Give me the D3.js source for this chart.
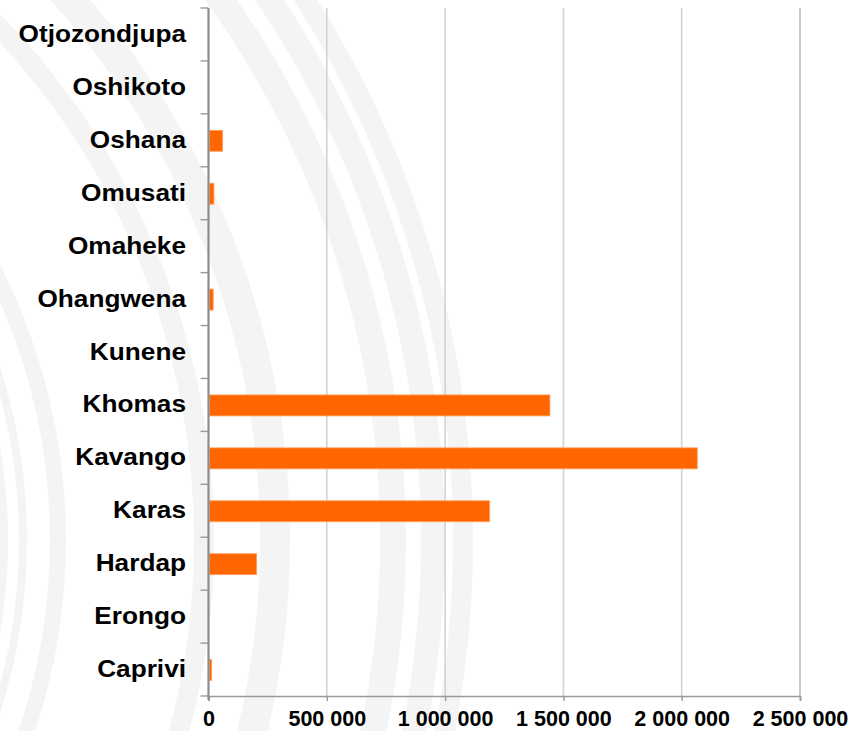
<!DOCTYPE html>
<html>
<head>
<meta charset="utf-8">
<script src="https://cdn.jsdelivr.net/npm/d3@7"></script>
<style>
  html, body { margin: 0; padding: 0; background: #ffffff; }
  svg { display: block; }
  text { font-family: "Liberation Sans", Arial, sans-serif; font-weight: bold; fill: #000; }
</style>
</head>
<body>
<svg id="chart" width="861" height="731"></svg>
<script>
// Regions, listed top to bottom
const regions = ["Otjozondjupa", "Oshikoto", "Oshana", "Omusati", "Omaheke", "Ohangwena",
                 "Kunene", "Khomas", "Kavango", "Karas", "Hardap", "Erongo", "Caprivi"];
const values  = [1500, 1500, 60000, 23000, 0, 20000,
                 0, 1443000, 2066000, 1188500, 203700, 0, 13500];
const xTicks  = [0, 500000, 1000000, 1500000, 2000000, 2500000];

(function () {
  const svg = d3.select("#chart");
  const plotLeft = 208.5, plotRight = 800, plotTop = 8, plotBottom = 696;

  // Watermark: faint concentric rings behind the plot
  const ringCenter = [-540, 540];
  const rings = [
    {r: 544, w: 8}, {r: 563, w: 8}, {r: 598, w: 16},
    {r: 744, w: 20}, {r: 815, w: 30}, {r: 933, w: 26},
    {r: 973, w: 24}, {r: 1003, w: 20}
  ];
  svg.append("g")
    .selectAll("circle")
    .data(rings)
    .join("circle")
    .attr("cx", ringCenter[0])
    .attr("cy", ringCenter[1])
    .attr("r", d => d.r)
    .attr("fill", "none")
    .attr("stroke", "#f4f4f4")
    .attr("stroke-width", d => d.w);

  const x = d3.scaleLinear().domain([0, 2500000]).range([plotLeft, plotRight]);
  const yb = d3.scaleBand().domain(regions).range([plotTop, plotBottom]);

  const fmt = d3.formatLocale({decimal: ",", thousands: "\u00a0", grouping: [3], currency: ["", ""]}).format(",d");

  // Vertical gridlines
  svg.append("g")
    .selectAll("line")
    .data(xTicks.slice(1))
    .join("line")
    .attr("x1", d => x(d)).attr("x2", d => x(d))
    .attr("y1", plotTop).attr("y2", plotBottom)
    .attr("stroke", (d, i, a) => i === a.length - 1 ? "#a6a6a6" : "#d2d2d2")
    .attr("stroke-width", (d, i, a) => i === a.length - 1 ? 1.2 : 1.6);

  // Bars
  svg.append("g")
    .selectAll("rect")
    .data(regions.map((r, i) => ({region: r, value: values[i]})))
    .join("rect")
    .attr("x", x(0) + 1)
    .attr("y", d => yb(d.region) + (yb.bandwidth() - 21) / 2 + 0.5)
    .attr("width", d => Math.max(0, x(d.value) - x(0) - 1))
    .attr("height", 21)
    .attr("fill", "#ff6600")
    .attr("stroke", "#ffa366")
    .attr("stroke-width", d => d.value > 0 ? 0.8 : 0);

  // X axis
  const xAxis = d3.axisBottom(x).tickValues(xTicks).tickSize(5).tickPadding(10).tickFormat(fmt);
  const gx = svg.append("g").attr("transform", `translate(0,${plotBottom})`).call(xAxis);
  gx.select(".domain").attr("stroke", "#9a9a9a").attr("stroke-width", 1.6);
  gx.selectAll(".tick line").attr("stroke", "#9a9a9a").attr("stroke-width", 1.4);
  gx.selectAll(".tick text")
    .attr("font-size", 21.5)
    .attr("font-family", "Liberation Sans, Arial, sans-serif")
    .attr("font-weight", "bold")
    .attr("fill", "#000")
    .attr("dy", "0.71em");

  // Y axis: ticks at band boundaries
  const boundaries = regions.map(r => yb(r)).concat([plotBottom]);
  const gy = svg.append("g");
  gy.append("line")
    .attr("x1", plotLeft).attr("x2", plotLeft)
    .attr("y1", plotTop).attr("y2", plotBottom + 4)
    .attr("stroke", "#8c8c8c").attr("stroke-width", 2.2);
  gy.selectAll("line.tk")
    .data(boundaries)
    .join("line")
    .attr("class", "tk")
    .attr("x1", plotLeft - 8).attr("x2", plotLeft)
    .attr("y1", d => d).attr("y2", d => d)
    .attr("stroke", "#9a9a9a").attr("stroke-width", 1.4);

  // Region labels
  gy.selectAll("text")
    .data(regions)
    .join("text")
    .attr("transform", d => `translate(186,${yb(d) + yb.bandwidth() / 2 + 7.5}) scale(1.14,1)`)
    .attr("text-anchor", "end")
    .attr("font-size", 23)
    .text(d => d);
})();
</script>
</body>
</html>
